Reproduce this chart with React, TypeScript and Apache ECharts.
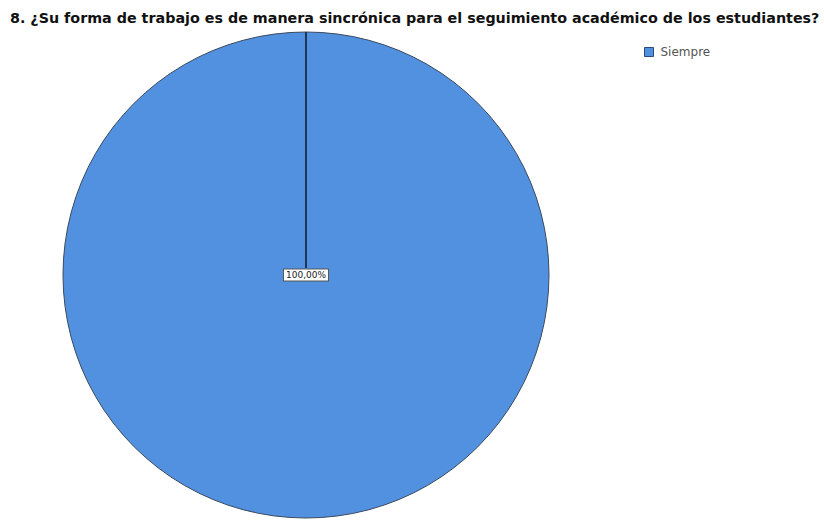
import React, { useEffect, useRef } from "react";
import * as echarts from "echarts";

const categories = ["Siempre"];
const values = [100];
const labels = ["100,00%"];
const titleText = "8. ¿Su forma de trabajo es de manera sincrónica para el seguimiento académico de los estudiantes?";

export default function App() {
  const ref = useRef<HTMLDivElement>(null);
  useEffect(() => {
    if (!ref.current) return;
    const chart = echarts.init(ref.current, null, { renderer: "svg" });
    const cx = 306;
    const cy = 275;
    const r = 243;
    chart.setOption({
      animation: false,
      backgroundColor: "#ffffff",
      title: {
        text: titleText,
        left: 10,
        top: 9,
        padding: 0,
        textStyle: { fontFamily: "DejaVu Sans, sans-serif", fontSize: 14.3, fontWeight: "bold", color: "#111", lineHeight: 17 },
      },
      legend: {
        data: categories,
        left: 644,
        top: 46,
        padding: 0,
        itemWidth: 9,
        itemHeight: 9,
        itemGap: 4,
        icon: "rect",
        textStyle: { fontFamily: "DejaVu Sans, sans-serif", fontSize: 12, color: "#555", padding: [0, 0, 0, 2] },
        itemStyle: { borderColor: "#2a4a7a", borderWidth: 1 },
      },
      series: [
        {
          type: "pie",
          center: [cx, cy],
          radius: [0, r],
          startAngle: 90,
          clockwise: true,
          data: categories.map((c, i) => ({ name: c, value: values[i] })),
          itemStyle: { color: "#5291E0", borderColor: "#3b4a5e", borderWidth: 1 },
          label: {
            show: true,
            position: "center",
            formatter: (p: any) => labels[p.dataIndex],
            fontFamily: "DejaVu Sans, sans-serif",
            fontSize: 9,
            color: "#222",
            backgroundColor: "#ffffff",
            borderColor: "#555",
            borderWidth: 1,
            padding: [1, 2, 1, 2],
          },
          labelLine: { show: false },
          emphasis: { disabled: true },
          silent: true,
        },
      ],
      graphic: [
        {
          type: "line",
          shape: { x1: cx, y1: cy - r, x2: cx, y2: cy - 7 },
          style: { stroke: "#1d3557", lineWidth: 2 },
          z: 5,
        },
      ],
    });
    return () => chart.dispose();
  }, []);
  return (
    <div
      ref={ref}
      style={{ position: "fixed", left: 0, top: 0, width: 824, height: 520 }}
    />
  );
}
